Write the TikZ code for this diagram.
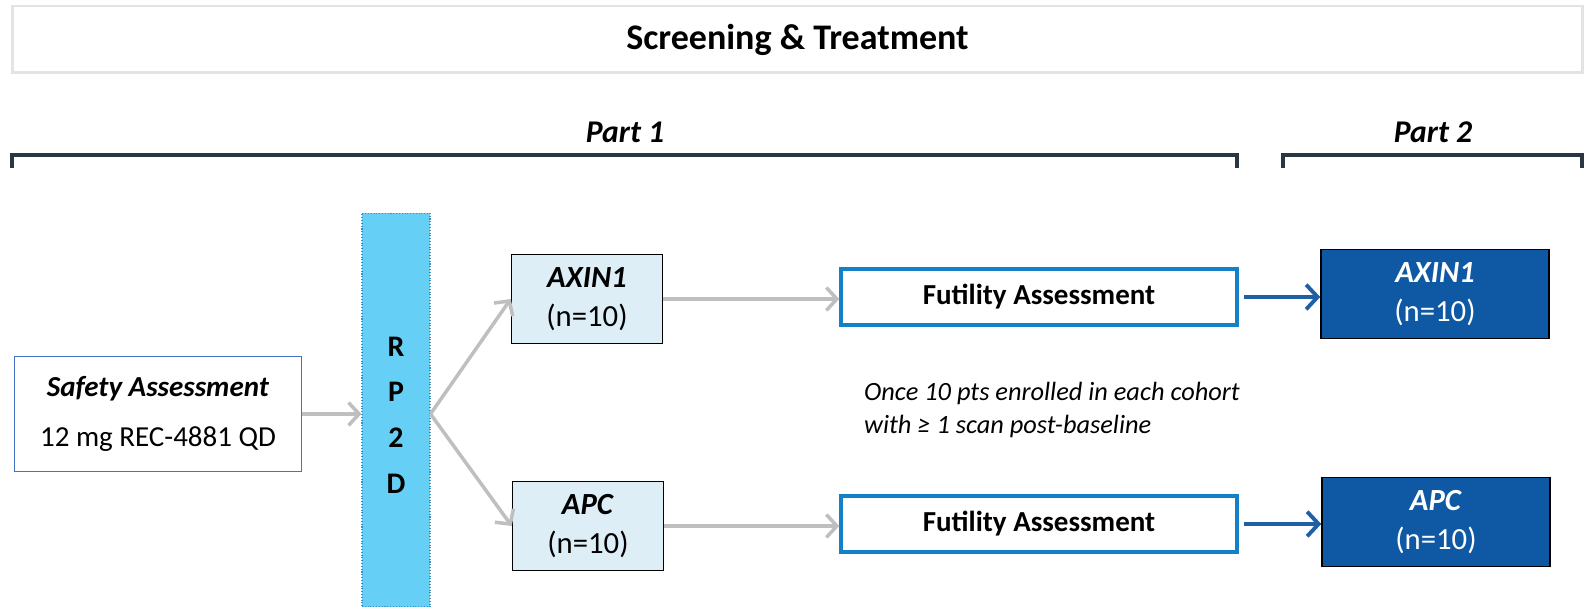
\documentclass[tikz,border=0pt]{standalone}
\usepackage{fontspec}
\setmainfont{Carlito}
\usepackage{tikz}
\usetikzlibrary{arrows.meta,positioning}
\definecolor{framegray}{HTML}{E3E3E3}
\definecolor{bracketblue}{HTML}{2B3645}
\definecolor{safetyblue}{HTML}{4472C4}
\definecolor{rpfill}{HTML}{66CFF5}
\definecolor{rpline}{HTML}{3C8FC0}
\definecolor{cohortfill}{HTML}{DEEEF6}
\definecolor{futblue}{HTML}{1380C8}
\definecolor{arrowblue}{HTML}{1F5FA6}
\definecolor{partfill}{HTML}{0F59A4}
\definecolor{arrowgray}{HTML}{BFBFBF}
\tikzset
{
  titlebox/.style    = {draw=framegray, line width=1.7pt, minimum width=31.42cm, minimum height=1.34cm, font=\fontsize{20.5}{24}\selectfont\bfseries},
  partlabel/.style   = {font=\fontsize{18}{22}\selectfont\bfseries\itshape},
  bracketline/.style = {draw=bracketblue, line width=2pt},
  safetybox/.style   = {draw=safetyblue, line width=1.1pt, fill=white, align=center, minimum width=5.74cm, minimum height=2.3cm, font=\fontsize{16.5}{28}\selectfont},
  rpbar/.style       = {draw=rpline, densely dotted, line width=0.6pt, fill=rpfill, minimum width=1.36cm, minimum height=7.88cm},
  rptext/.style      = {align=center, font=\fontsize{17}{26}\selectfont\bfseries},
  cohortbox/.style   = {draw=black, line width=0.9pt, fill=cohortfill, align=center, minimum width=3.02cm, minimum height=1.78cm, font=\fontsize{17.5}{22}\selectfont},
  futilitybox/.style = {draw=futblue, line width=2pt, fill=white, minimum width=7.92cm, minimum height=1.12cm, font=\fontsize{16.5}{20}\selectfont\bfseries},
  partbox/.style     = {draw=black, line width=0.9pt, fill=partfill, text=white, align=center, minimum width=4.56cm, minimum height=1.78cm, font=\fontsize{17.5}{22}\selectfont},
  notetext/.style    = {align=left, anchor=west, font=\fontsize{15}{18.7}\selectfont\itshape},
  grayarrow/.style   = {draw=arrowgray, line width=2pt, -{Straight Barb[length=6pt,width=13pt]}},
  bluearrow/.style   = {draw=arrowblue, line width=2.2pt, -{Straight Barb[length=6.5pt,width=14pt]}}
}
\begin{document}
\begin{tikzpicture}[x=0.02cm,y=-0.02cm]
\useasboundingbox (0,0) rectangle (1593,607);
\node [titlebox] (title) at (797.5,39.5) {\raisebox{-2pt}{Screening \& Treatment}};
\node [partlabel] (part1) at (625,132) {Part 1};
\node [partlabel] (part2) at (1433,132) {Part 2};
\draw [bracketline] (12,168) -- (12,155) -- (1237,155) -- (1237,168);
\draw [bracketline] (1283,168) -- (1283,155) -- (1582,155) -- (1582,168);
\node [safetybox] (safety) at (158,414) {\textbf{\textit{Safety Assessment}}\\12 mg REC-4881 QD};
\node [rpbar] (rp) at (396,410) {};
\node [rptext] (rptxt) at (396,415) {R\\P\\2\\D};
\node [cohortbox] (axin) at (587,299) {\textbf{\textit{AXIN1}}\\(n=10)};
\node [cohortbox] (apc) at (588,526) {\textbf{\textit{APC}}\\(n=10)};
\node [futilitybox] (fut1) at (1039,297) {Futility Assessment};
\node [futilitybox] (fut2) at (1039,524) {Futility Assessment};
\node [partbox] (axin2) at (1435,294) {\textbf{\textit{AXIN1}}\\(n=10)};
\node [partbox] (apc2) at (1436,522) {\textbf{\textit{APC}}\\(n=10)};
\node [notetext] (note) at (858,410) {Once 10 pts enrolled in each cohort\\with ≥ 1 scan post-baseline};
\coordinate (split) at (rp.east |- safety.east);
\draw [grayarrow] (safety.east) -- (safety.east -| rp.west);
\draw [grayarrow] (split) -- (axin.west);
\draw [grayarrow] (split) -- (apc.west);
\draw [grayarrow] (axin.east) -- (axin.east -| fut1.west);
\draw [grayarrow] (apc.east) -- (apc.east -| fut2.west);
\draw [bluearrow, shorten <=3pt] (fut1.east) -- (fut1.east -| axin2.west);
\draw [bluearrow, shorten <=3pt] (fut2.east) -- (fut2.east -| apc2.west);
\end{tikzpicture}
\end{document}
